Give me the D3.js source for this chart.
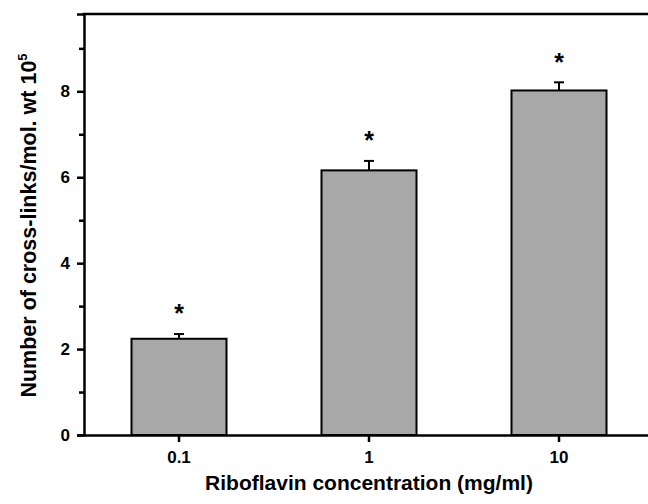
<!DOCTYPE html>
<html>
<head>
<meta charset="utf-8">
<script src="https://cdn.jsdelivr.net/npm/d3@7"></script>
<style>
  body { margin: 0; background: #fff; }
  text { font-family: "Liberation Sans", Arial, sans-serif; font-weight: bold; }
</style>
</head>
<body>
<div id="graph"></div>
<script>
const categories = ["0.1", "1", "10"];
const values = [2.24, 6.16, 8.02];
const errors = [0.11, 0.22, 0.19];
const starPos = [2.97, 7.01, 8.83];
const yTicks = [0, 2, 4, 6, 8];
const yMinor = [1, 3, 5, 7, 9];

const W = 648, H = 504;
const margin = { top: 14, left: 84, bottom: 69, right: -6 };

const svg = d3.select("#graph")
  .append("svg")
  .attr("width", W)
  .attr("height", H);

const x = d3.scaleBand()
  .domain(categories)
  .range([margin.left, W - margin.right])
  .paddingInner(0.5)
  .paddingOuter(0.25);

const y = d3.scaleLinear()
  .domain([0, 9.8])
  .range([H - margin.bottom, margin.top]);

// bars
svg.selectAll("rect.bar")
  .data(values)
  .enter().append("rect")
  .attr("class", "bar")
  .attr("x", (d, i) => x(categories[i]))
  .attr("y", d => y(d))
  .attr("width", x.bandwidth())
  .attr("height", d => y(0) - y(d))
  .attr("fill", "#a8a8a8")
  .attr("stroke", "#000")
  .attr("stroke-width", 2);

// error bars (upper only)
const cx = i => x(categories[i]) + x.bandwidth() / 2;
values.forEach((v, i) => {
  svg.append("line")
    .attr("x1", cx(i)).attr("x2", cx(i))
    .attr("y1", y(v)).attr("y2", y(v + errors[i]))
    .attr("stroke", "#000").attr("stroke-width", 2);
  svg.append("line")
    .attr("x1", cx(i) - 5).attr("x2", cx(i) + 5)
    .attr("y1", y(v + errors[i])).attr("y2", y(v + errors[i]))
    .attr("stroke", "#000").attr("stroke-width", 2);
});

// asterisks
svg.selectAll("text.star")
  .data(starPos)
  .enter().append("text")
  .attr("class", "star")
  .attr("x", (d, i) => cx(i))
  .attr("y", d => y(d) + 15)
  .attr("text-anchor", "middle")
  .attr("font-size", 25)
  .text("*");

// y axis
const yAxis = svg.append("g")
  .attr("transform", "translate(" + margin.left + ",0)")
  .call(d3.axisLeft(y).tickValues(yTicks).tickSize(7).tickPadding(7).tickFormat(d3.format("d")));
yAxis.attr("font-size", 17).attr("font-family", null);
yAxis.selectAll("text").attr("fill", "#000");
svg.append("g")
  .attr("transform", "translate(" + margin.left + ",0)")
  .call(d3.axisLeft(y).tickValues(yMinor).tickSize(5).tickFormat(""))
  .select(".domain").remove();

// x axis
const xAxis = svg.append("g")
  .attr("transform", "translate(0," + y(0) + ")")
  .call(d3.axisBottom(x).tickSize(7).tickPadding(9).tickSizeOuter(0));
xAxis.attr("font-size", 17).attr("font-family", null);
xAxis.selectAll("text").attr("fill", "#000");

svg.selectAll(".domain, .tick line")
  .attr("stroke", "#000")
  .attr("stroke-width", 2.5);

// top frame
svg.append("line")
  .attr("x1", margin.left - 1.25).attr("x2", W)
  .attr("y1", margin.top).attr("y2", margin.top)
  .attr("stroke", "#000").attr("stroke-width", 2.5);

// axis titles
svg.append("text")
  .attr("x", x("1") + x.bandwidth() / 2)
  .attr("y", 490)
  .attr("text-anchor", "middle")
  .attr("font-size", 21)
  .text("Riboflavin concentration (mg/ml)");

const yt = svg.append("text")
  .attr("transform", "translate(36," + ((margin.top + y(0)) / 2 + 1) + ")rotate(-90)")
  .attr("text-anchor", "middle")
  .attr("font-size", 21.5);
yt.append("tspan").text("Number of cross-links/mol. wt 10");
yt.append("tspan").attr("dy", -9).attr("font-size", 13).text("5");
</script>
</body>
</html>
